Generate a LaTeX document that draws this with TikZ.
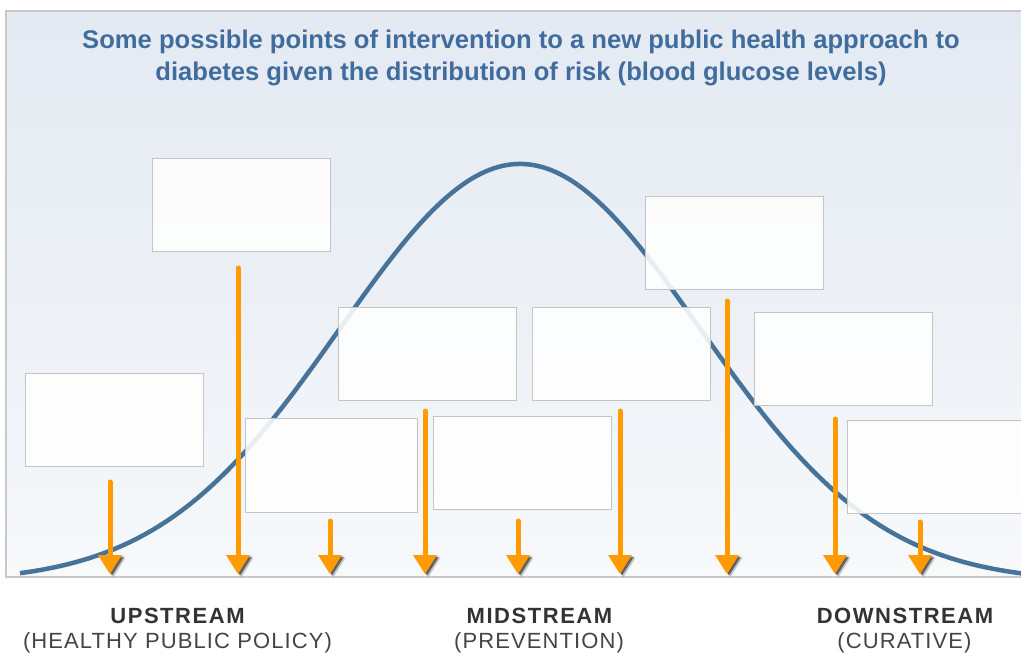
\documentclass[tikz,border=0pt]{standalone}
\usepackage{fontspec}
\setmainfont{Liberation Sans}
\usetikzlibrary{calc}
\definecolor{titleblue}{RGB}{64,108,158}
\definecolor{curveblue}{RGB}{70,115,153}
\definecolor{arroworange}{RGB}{255,155,0}
\definecolor{panelgray}{RGB}{200,200,200}
\definecolor{boxgray}{RGB}{196,196,196}
\definecolor{bgtop}{RGB}{220,228,238}
\definecolor{bgmid}{RGB}{236,240,246}
\definecolor{bglow}{RGB}{247,249,251}
\definecolor{labeldark}{RGB}{51,51,51}
\definecolor{labelgray}{RGB}{68,68,68}
\pgfdeclareverticalshading{panelshade}{100bp}{color(0bp)=(white); color(10bp)=(white); color(25bp)=(bglow); color(50bp)=(bgmid); color(100bp)=(bgtop)}
\tikzset{
  box/.style={draw=boxgray, line width=1.3pt, fill=white, fill opacity=.88, draw opacity=1,
    minimum width=178pt, minimum height=93pt, inner sep=0pt, anchor=north west},
  shaft/.style={draw=arroworange, line width=5pt, line cap=round},
  curve/.style={draw=curveblue, line width=4.5pt},
  titletext/.style={text=titleblue, font=\bfseries\fontsize{25.6}{30}\selectfont, anchor=base, inner sep=0pt},
  lblbold/.style={text=labeldark, font=\bfseries\fontsize{22}{26}\selectfont\addfontfeature{LetterSpace=7}, anchor=base, inner sep=0pt},
  lblreg/.style={text=labelgray, font=\fontsize{22}{26}\selectfont\addfontfeature{LetterSpace=5}, anchor=base, inner sep=0pt},
  ahead/.pic={
    \fill[black, opacity=.22] (-9.5,-16.5) -- (15.5,-16.5) -- (3.5,3) -- cycle;
    \fill[black, opacity=.5] (-10,-17.5) -- (14,-17.5) -- (2,1.5) -- cycle;
    \fill[arroworange] (-12,-19) -- (12,-19) -- (0,0) -- cycle;
  }
}
\begin{document}
\begin{tikzpicture}[x=1pt, y=-1pt]
\useasboundingbox (0,0) rectangle (1021,656);
\clip (0,0) rectangle (1021,656);
% panel background
\shade[shading=panelshade] (6,11) rectangle (1030,577);
\draw[panelgray, line width=1.5pt] (1030,11) -- (6,11) -- (6,577) -- (1030,577);
% curve
\begin{scope}
\clip (6,11) rectangle (1030,576);
\draw[curve] plot[domain=20:1022, samples=240] (\x, {577 - (418*exp(-0.5*((\x-520)/180)^2) - 5)});
\end{scope}
% title
\node[titletext] (title1) at (521,48) {Some possible points of intervention to a new public health approach to};
\node[titletext] (title2) at (521,80) {diabetes given the distribution of risk (blood glucose levels)};
% boxes
\node[box] (b1) at (25,373) {};
\node[box] (b2) at (152,158) {};
\node[box, minimum width=172pt, minimum height=94pt] (b3) at (245,418) {};
\node[box] (b4) at (338,307) {};
\node[box] (b5) at (433,416) {};
\node[box] (b6) at (532,307) {};
\node[box] (b7) at (645,196) {};
\node[box] (b8) at (754,312) {};
\node[box, minimum width=200pt] (b9) at (847,420) {};
% arrows
\foreach \n/\x/\y in {1/110/482, 2/238/268, 3/330/521, 4/425/411, 5/518/521, 6/620/411, 7/727/301, 8/835/419, 9/920/522}{
  \coordinate (s\n) at (\x,\y);
  \coordinate (t\n) at (\x,574);
}
\foreach \n in {1,...,9}{
  \draw[shaft] (s\n) -- ($(t\n)+(0,-17)$);
  \pic at (t\n) {ahead};
}
% labels
\node[lblbold] (up1) at (177.5,623) {UPSTREAM};
\node[lblreg] (up2) at (177.5,648) {(HEALTHY PUBLIC POLICY)};
\node[lblbold] (mid1) at (539.5,623) {MIDSTREAM};
\node[lblreg] (mid2) at (539,648) {(PREVENTION)};
\node[lblbold] (down1) at (905,623) {DOWNSTREAM};
\node[lblreg] (down2) at (904.5,648) {(CURATIVE)};
\end{tikzpicture}
\end{document}
